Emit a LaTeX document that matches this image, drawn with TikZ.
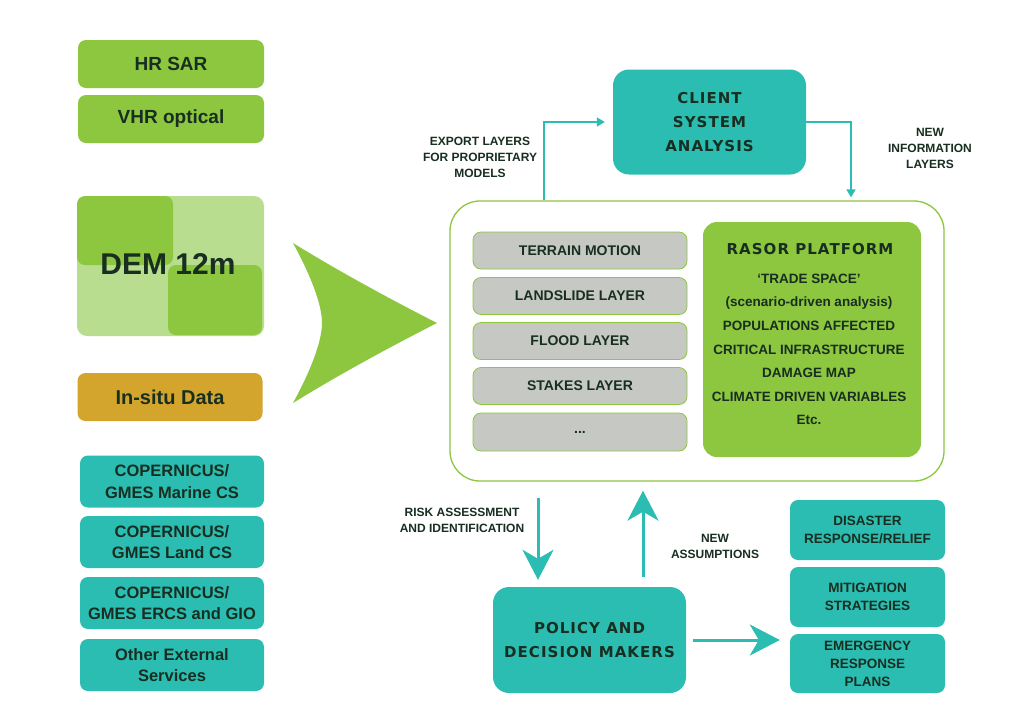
\documentclass[tikz,border=0pt]{standalone}
\usepackage{fontspec}
\setmainfont{Liberation Sans}
\newfontfamily\hdfont[LetterSpace=7]{DejaVu Sans}
\usetikzlibrary{arrows.meta}
\definecolor{teal1}{RGB}{44,189,178}
\definecolor{lgreen}{RGB}{141,198,63}
\definecolor{pgreen}{RGB}{184,221,142}
\definecolor{gold1}{RGB}{212,165,45}
\definecolor{txt}{RGB}{24,46,32}
\definecolor{gray1}{RGB}{198,200,196}
\tikzset{
  box/.style={rounded corners=8pt, inner sep=0pt, align=center, text=txt},
  src/.style={box, fill=lgreen, minimum width=186pt, minimum height=48pt, font=\fontsize{19}{22}\selectfont\bfseries},
  cop/.style={box, fill=teal1, minimum width=184pt, minimum height=52pt, font=\fontsize{16.5}{21.5}\selectfont\bfseries},
  layer/.style={box, fill=gray1, draw=lgreen, line width=0.8pt, minimum width=214pt, minimum height=37pt, font=\fontsize{14}{16}\selectfont\bfseries},
  outbox/.style={box, fill=teal1, minimum width=155pt, minimum height=60pt, font=\fontsize{13.5}{18}\selectfont\bfseries},
  lbl/.style={align=center, text=txt, inner sep=0pt, font=\fontsize{12}{16}\selectfont\bfseries},
  hd/.style={box, fill=teal1, rounded corners=16pt, font=\fontsize{15}{24}\selectfont\hdfont\bfseries},
  thinarrow/.style={draw=teal1, line width=1.5pt, -{Triangle[length=8pt,width=9pt]}},
  bigarrow/.style={draw=teal1, line width=3pt, -{Stealth[length=30pt,width=31pt,inset=9pt]}},
}
\begin{document}
\begin{tikzpicture}[x=1pt,y=-1pt]
\useasboundingbox (0,0) rectangle (1024,724);
\fill[white] (0,0) rectangle (1024,724);

% left sources
\node[src] (hrsar) at (171,64) {HR SAR};
\node[src] (vhr) at (171,119) {VHR optical};

% DEM block
\fill[pgreen, rounded corners=10pt] (77,196) rectangle (264,336);
\fill[lgreen, rounded corners=8pt] (77,196) rectangle (173,265);
\fill[lgreen, rounded corners=8pt] (168,265) rectangle (262,335);
\node[text=txt, inner sep=0pt, font=\fontsize{30}{32}\selectfont\bfseries] (dem) at (168,264) {DEM 12m};

\node[src, fill=gold1, minimum width=185pt, font=\fontsize{20}{22}\selectfont\bfseries] (insitu) at (170,397) {In-situ Data};

\node[cop] (cop1) at (172,481.5) {COPERNICUS/\\GMES Marine CS};
\node[cop] (cop2) at (172,542) {COPERNICUS/\\GMES Land CS};
\node[cop] (cop3) at (172,603) {COPERNICUS/\\GMES ERCS and GIO};
\node[cop] (other) at (172,665) {Other External\\Services};

% big arrow
\fill[lgreen] (293,243) .. controls (340,272) and (390,299) .. (437,323)
  .. controls (390,347) and (340,374) .. (293,403)
  .. controls (310,372) and (322,342) .. (322,323)
  .. controls (322,304) and (310,274) .. (293,243) -- cycle;

% platform container
\node[draw=lgreen, line width=1.3pt, rounded corners=30pt, minimum width=494pt, minimum height=280pt, inner sep=0pt] (plat) at (697,341) {};

\node[layer] (l1) at (580,250.5) {TERRAIN MOTION};
\node[layer] (l2) at (580,296) {LANDSLIDE LAYER};
\node[layer] (l3) at (580,341) {FLOOD LAYER};
\node[layer] (l4) at (580,386) {STAKES LAYER};
\node[layer, minimum height=38pt] (l5) at (580,432) {...};

\node[box, fill=lgreen, rounded corners=14pt, minimum width=218pt, minimum height=235pt] (rasor) at (812,339.5) {};
\node[text=txt, inner sep=0pt, font=\fontsize{15}{20}\selectfont\hdfont\bfseries] (rasorhd) at (810,249) {RASOR PLATFORM};
\node[text=txt, inner sep=0pt, align=center, font=\fontsize{13.5}{23.6}\selectfont\bfseries] (rasorbody) at (809,349.5)
  {`TRADE SPACE'\\(scenario-driven analysis)\\POPULATIONS AFFECTED\\CRITICAL INFRASTRUCTURE\\DAMAGE MAP\\CLIMATE DRIVEN VARIABLES\\Etc.};

% client
\node[hd, minimum width=193pt, minimum height=105pt] (client) at (709.5,122) {CLIENT\\SYSTEM\\ANALYSIS};
\coordinate (exx) at (544,0);
\coordinate (nix) at (851,0);
\draw[thinarrow, shorten >=8pt] (plat.north -| exx) |- (client.west);
\draw[thinarrow, shorten >=3pt] (client.east) -| (plat.north -| nix);
\node[lbl] (explbl) at (480,157) {EXPORT LAYERS\\FOR PROPRIETARY\\MODELS};
\node[lbl] (newinfo) at (930,148) {NEW\\INFORMATION\\LAYERS};

% policy
\node[hd, minimum width=193pt, minimum height=106pt] (policy) at (589.5,640) {POLICY AND\\DECISION MAKERS};
\coordinate (dnx) at (538,0);
\coordinate (upx) at (643,0);
\draw[bigarrow, shorten <=16pt, shorten >=7pt] (plat.south -| dnx) -- (policy.north -| dnx);
\draw[bigarrow, shorten <=10pt, shorten >=9pt] (policy.north -| upx) -- (plat.south -| upx);
\node[lbl] (risk) at (462,520) {RISK ASSESSMENT\\AND IDENTIFICATION};
\node[lbl] (newass) at (715,546) {NEW\\ASSUMPTIONS};

% outcomes
\node[outbox] (dis) at (867.5,530) {DISASTER\\RESPONSE/RELIEF};
\node[outbox] (mit) at (867.5,597) {MITIGATION\\STRATEGIES};
\node[outbox, minimum height=59pt] (emg) at (867.5,663.5) {EMERGENCY\\RESPONSE\\PLANS};
\draw[bigarrow, shorten <=7pt, shorten >=10pt] (policy.east) -- (policy.east -| emg.west);
\end{tikzpicture}
\end{document}
